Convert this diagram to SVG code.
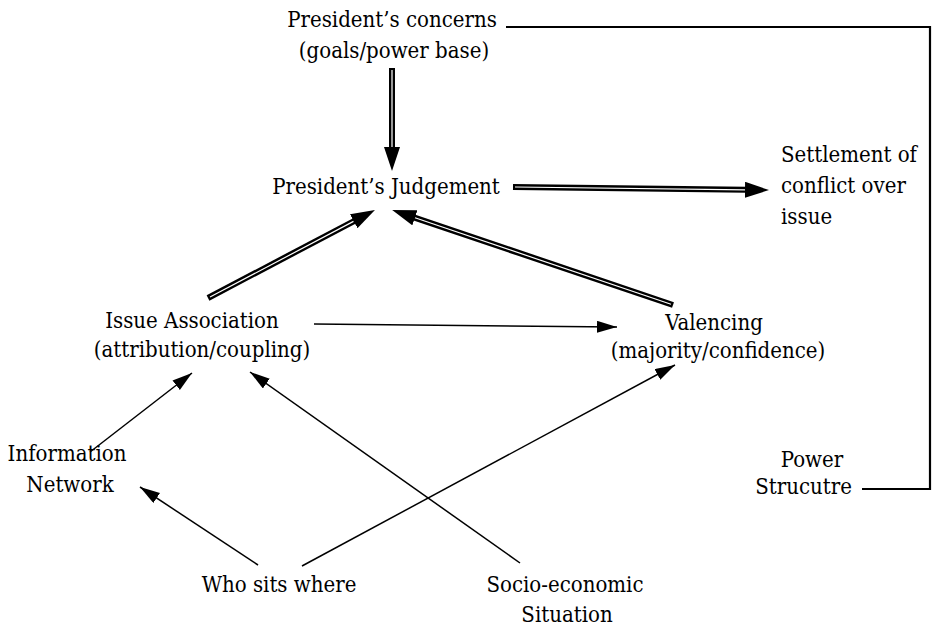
<svg xmlns="http://www.w3.org/2000/svg" width="932" height="630" viewBox="0 0 932 630">
<style>
  text { font-family: "DejaVu Serif Condensed", "DejaVu Serif", "Liberation Serif", serif; font-stretch: condensed; font-size: 22px; fill: #000; }
  .m { text-anchor: middle; }
  .e { text-anchor: end; }
  .thin { stroke: #000; stroke-width: 1.5; fill: none; }
  .dbl { stroke: #000; stroke-width: 6; fill: none; }
  .gap { stroke: #fff; stroke-width: 1.2; fill: none; }
  .frame { stroke: #000; stroke-width: 2.2; fill: none; }
</style>
<defs>
  <marker id="ah" markerUnits="userSpaceOnUse" markerWidth="22" markerHeight="14" refX="20" refY="6" orient="auto">
    <path d="M0,0 L20,6 L0,12 z" fill="#000"/>
  </marker>
  <marker id="ahd" markerUnits="userSpaceOnUse" markerWidth="26" markerHeight="18" refX="2" refY="8" orient="auto">
    <path d="M0,0 L24,8 L0,16 z" fill="#000"/>
  </marker>
</defs>
<rect width="932" height="630" fill="#fff"/>

<g id="connectors">
  <polyline class="frame" points="506,27 930,27 930,489 862,489"/>
  <line class="dbl" x1="392" y1="68" x2="392" y2="149" marker-end="url(#ahd)"/>
  <line class="gap" x1="392" y1="70" x2="392" y2="147"/>
  <line class="dbl" x1="513" y1="187" x2="747" y2="189.8" marker-end="url(#ahd)"/>
  <line class="gap" x1="515" y1="187" x2="745" y2="189.8"/>
  <line class="dbl" x1="208" y1="298" x2="355.5" y2="220.3" marker-end="url(#ahd)"/>
  <line class="gap" x1="210" y1="297" x2="353.5" y2="221.4"/>
  <line class="dbl" x1="673" y1="305" x2="413" y2="217.1" marker-end="url(#ahd)"/>
  <line class="gap" x1="671" y1="304.3" x2="415" y2="217.8"/>
  <line class="thin" x1="314" y1="324" x2="617" y2="327" marker-end="url(#ah)"/>
  <line class="thin" x1="90" y1="452" x2="192" y2="373" marker-end="url(#ah)"/>
  <line class="thin" x1="258" y1="565" x2="140" y2="487" marker-end="url(#ah)"/>
  <line class="thin" x1="302" y1="566" x2="675" y2="365" marker-end="url(#ah)"/>
  <line class="thin" x1="520" y1="563" x2="250" y2="372" marker-end="url(#ah)"/>
</g>

<g id="presidents-concerns">
  <text class="m" x="392" y="27">President’s concerns</text>
  <text class="m" x="394" y="58">(goals/power base)</text>
</g>
<g id="presidents-judgement">
  <text class="m" x="386" y="194">President’s Judgement</text>
</g>
<g id="settlement">
  <text x="781" y="162">Settlement of</text>
  <text x="781" y="193">conflict over</text>
  <text x="781" y="224">issue</text>
</g>
<g id="issue-association">
  <text class="m" x="192" y="328">Issue Association</text>
  <text class="m" x="202" y="357">(attribution/coupling)</text>
</g>
<g id="valencing">
  <text class="m" x="714" y="330">Valencing</text>
  <text class="m" x="718" y="358">(majority/confidence)</text>
</g>
<g id="information-network">
  <text class="m" x="67" y="461">Information</text>
  <text class="m" x="70" y="492">Network</text>
</g>
<g id="power-structure">
  <text class="m" x="812" y="467">Power</text>
  <text class="e" x="852" y="494">Strucutre</text>
</g>
<g id="who-sits-where">
  <text class="m" x="279" y="592">Who sits where</text>
</g>
<g id="socio-economic">
  <text class="m" x="565" y="592">Socio-economic</text>
  <text class="m" x="567" y="622">Situation</text>
</g>
</svg>
